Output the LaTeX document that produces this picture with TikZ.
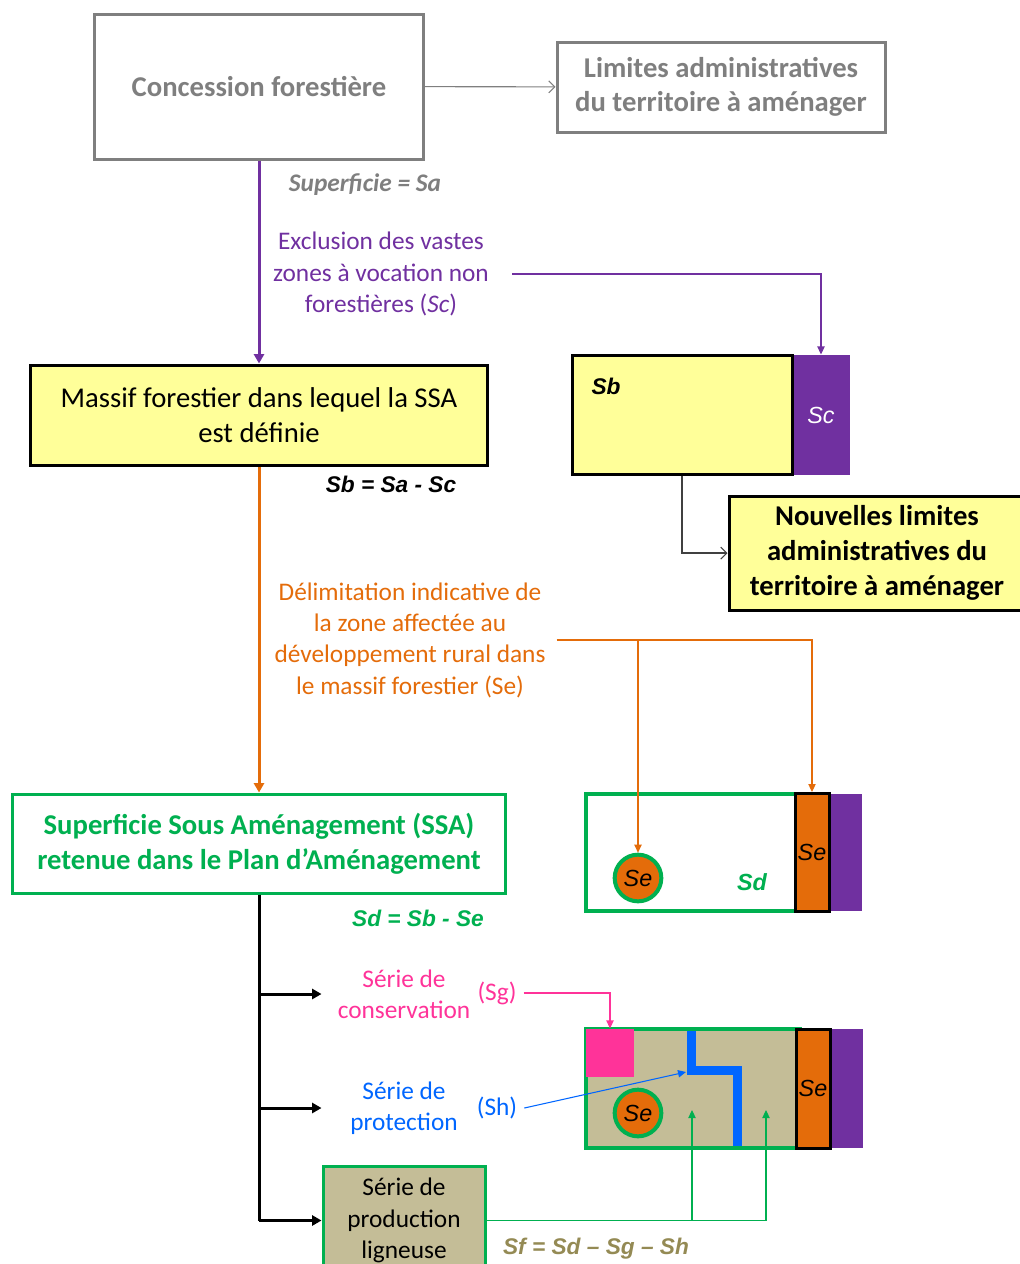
\documentclass[tikz,border=0pt]{standalone}
\usepackage{fontspec}
\setmainfont{Carlito}
\newfontfamily\arial{Liberation Sans}
\usetikzlibrary{arrows.meta}
\definecolor{cgray}{RGB}{127,127,127}
\definecolor{cpurple}{RGB}{112,48,160}
\definecolor{corange}{RGB}{228,108,10}
\definecolor{cyellow}{RGB}{255,255,153}
\definecolor{cgreen}{RGB}{0,176,80}
\definecolor{cpink}{RGB}{255,51,153}
\definecolor{cblue}{RGB}{0,102,255}
\definecolor{ctan}{RGB}{196,189,151}
\definecolor{colive}{RGB}{148,138,84}

\begin{document}
\begin{tikzpicture}[x=0.75pt, y=-0.75pt, >=Triangle, thick]
  \tikzset{
    box/.style={rectangle, align=center, inner sep=2pt, line width=2.25pt, font=\fontsize{21.5}{26}\selectfont},
    lbl/.style={align=center, inner sep=2pt, font=\fontsize{19}{23.5}\selectfont},
    eqn/.style={inner sep=2pt, font=\arial\bfseries\itshape\fontsize{17}{20}\selectfont},
    tag/.style={inner sep=0pt, font=\arial\itshape\fontsize{17.5}{20}\selectfont},
    bar/.style={rectangle, inner sep=0pt, minimum width=25.5pt, minimum height=88.5pt, fill=corange, draw=black, line width=2.25pt},
    bigarrow/.style={line width=2.25pt, -{Triangle[length=7pt, width=7.5pt]}},
    thinarrow/.style={line width=0.8pt, -{Triangle[length=6pt, width=5.5pt]}},
    openarrow/.style={line width=0.8pt, -{Straight Barb[length=4.5pt, width=9pt]}}
  }
  \useasboundingbox (0,0) rectangle (1020,1264);

  % left column
  \node[box, draw=cgray, text=cgray, font=\bfseries\fontsize{21.5}{26}\selectfont, minimum width=246.75pt, minimum height=108.75pt] (concession) at (259,86.5) {Concession forestière};
  \node[box, draw=cgray, text=cgray, font=\bfseries\fontsize{21.5}{26}\selectfont, minimum width=246pt, minimum height=67.5pt] (limites) at (721,87) {Limites administratives\\du territoire à aménager};
  \node[box, draw=black, fill=cyellow, minimum width=342.75pt, minimum height=75pt] (massif) at (259,415) {Massif forestier dans lequel la SSA\\est définie};
  \node[box, draw=black, fill=cyellow, font=\bfseries\fontsize{21.5}{26}\selectfont, minimum width=222pt, minimum height=85.5pt] (nouv) at (877,553) {Nouvelles limites\\administratives du\\territoire à aménager};
  \node[box, draw=cgreen, text=cgreen, fill=white, font=\bfseries\fontsize{21.5}{26}\selectfont, minimum width=369.75pt, minimum height=74.25pt] (ssa) at (259,843.5) {Superficie Sous Aménagement (SSA)\\retenue dans le Plan d’Aménagement};
  \node[box, draw=cgreen, fill=ctan, font=\fontsize{19}{23.5}\selectfont, minimum width=121.5pt, minimum height=81.75pt] (prod) at (404,1220.5) {Série de\\production\\ligneuse};

  % labels
  \node[lbl, text=cgray, font=\bfseries\itshape\fontsize{19}{23.5}\selectfont] (supa) at (365,185) {Superficie = Sa};
  \node[lbl, text=cpurple] (excl) at (381,274) {Exclusion des vastes\\zones à vocation non\\forestières (\textit{Sc})};
  \node[eqn] (sbeq) at (391,484) {Sb = Sa - Sc};
  \node[lbl, text=corange] (delim) at (410,640) {Délimitation indicative de\\la zone affectée au\\développement rural dans\\le massif forestier (Se)};
  \node[eqn, text=cgreen] (sdeq) at (418,918) {Sd = Sb - Se};
  \node[lbl, text=cpink] (conserv) at (404,994) {Série de\\conservation};
  \node[lbl, text=cpink] (sg) at (497,993) {(Sg)};
  \node[lbl, text=cblue] (protec) at (404,1108) {Série de\\protection};
  \node[lbl, text=cblue] (sh) at (497,1108) {(Sh)};
  \node[eqn, text=colive] (sfeq) at (596,1249) {Sf = Sd – Sg – Sh};

  % diagram Sb / Sc
  \node[rectangle, fill=cpurple, inner sep=0pt, minimum width=43.5pt, minimum height=90pt, text=white, tag] (scbar) at (821,415) {Sc};
  \node[rectangle, fill=cyellow, draw=black, line width=2.25pt, minimum width=165pt, minimum height=89.25pt] (sbrect) at (682,414.5) {};
  \node[tag, font=\arial\bfseries\itshape\fontsize{17}{20}\selectfont] (sblbl) at (606,386) {Sb};

  % diagram Sd
  \node[rectangle, fill=cpurple, inner sep=0pt, minimum width=25pt, minimum height=87.75pt] (pbarA) at (845.5,852.5) {};
  \node[rectangle, fill=white, draw=cgreen, line width=3pt, minimum width=160.5pt, minimum height=87.75pt] (sdrect) at (693,852.5) {};
  \node[bar, tag] (sebarA) at (812,852.5) {Se};
  \node[circle, fill=corange, draw=cgreen, line width=3pt, minimum size=35pt, inner sep=0pt, tag] (circA) at (638,878) {Se};
  \node[tag, text=cgreen, font=\arial\bfseries\itshape\fontsize{17.5}{20}\selectfont] (sdlbl) at (752,882) {Sd};

  % diagram Sf
  \node[rectangle, fill=cpurple, inner sep=0pt, minimum width=25pt, minimum height=89.25pt] (pbarB) at (846,1088.5) {};
  \node[rectangle, fill=ctan, draw=cgreen, line width=3pt, minimum width=160.5pt, minimum height=89.25pt] (sfrect) at (693,1088.5) {};
  \node[rectangle, fill=cpink, inner sep=0pt, minimum size=36pt] (sgsq) at (610,1053) {};
  \draw[cblue, line width=6.75pt] (691,1031) -- (691,1070) -- (737,1070) -- (737,1146);
  \node[bar, tag, minimum height=89.25pt] (sebarB) at (813,1088.5) {Se};
  \node[circle, fill=corange, draw=cgreen, line width=3pt, minimum size=35pt, inner sep=0pt, tag] (circB) at (638,1113) {Se};
  \coordinate (bend) at (686,1072);
  \coordinate (tipA) at (692,1110);
  \coordinate (tipB) at (766,1110);

  % connectors
  \draw[openarrow, cgray] (concession) -- (limites);
  \draw[bigarrow, cpurple] (concession) -- (massif);
  \draw[thinarrow, cpurple] ([xshift=15pt]excl.east) -| (scbar.north);
  \draw[openarrow, black!75] (sbrect.south) |- (nouv.west);
  \draw[bigarrow, corange] (massif) -- (ssa);
  \draw[thinarrow, corange] ([xshift=6pt]delim.east) -| (sebarA.north);
  \draw[thinarrow, corange] (circA.north |- delim.east) -- (circA.north);
  \draw[line width=2.25pt] (ssa.south) -- (ssa.south |- prod.west);
  \draw[bigarrow] (ssa.south |- conserv.west) -- (conserv.west -| prod.west);
  \draw[bigarrow] (ssa.south |- protec.west) -- (protec.west -| prod.west);
  \draw[bigarrow] (ssa.south |- prod.west) -- (prod.west);
  \draw[thinarrow, cpink] ([xshift=3pt]sg.east) -| (sgsq.north);
  \draw[thinarrow, cblue] ([xshift=3pt]sh.east) -- (bend);
  \draw[thinarrow, cgreen] (prod.east) -| (tipA);
  \draw[thinarrow, cgreen] (prod.east) -| (tipB);
\end{tikzpicture}
\end{document}
